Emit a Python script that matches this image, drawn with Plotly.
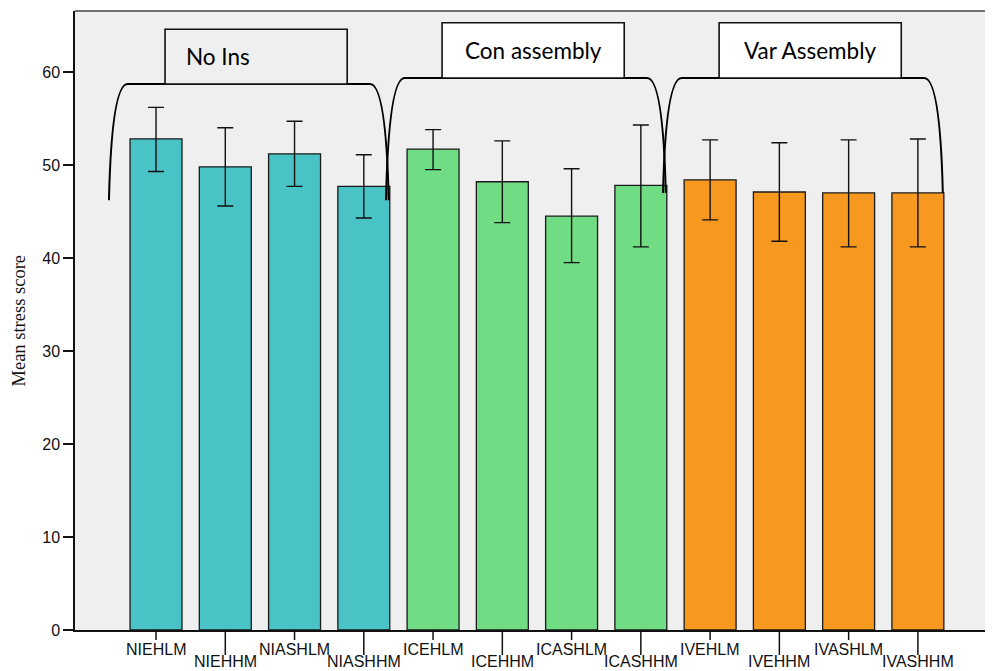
import plotly.graph_objects as go

categories = ["NIEHLM", "NIEHHM", "NIASHLM", "NIASHHM",
              "ICEHLM", "ICEHHM", "ICASHLM", "ICASHHM",
              "IVEHLM", "IVEHHM", "IVASHLM", "IVASHHM"]
means = [52.8, 49.8, 51.2, 47.7, 51.7, 48.2, 44.5, 47.8, 48.4, 47.1, 47.0, 47.0]
ci_upper = [56.2, 54.0, 54.7, 51.1, 53.8, 52.6, 49.6, 54.3, 52.7, 52.4, 52.7, 52.8]
ci_lower = [49.3, 45.6, 47.7, 44.3, 49.5, 43.8, 39.5, 41.2, 44.1, 41.8, 41.2, 41.2]
groups = ["No Ins", "Con assembly", "Var Assembly"]
group_members = [[0, 1, 2, 3], [4, 5, 6, 7], [8, 9, 10, 11]]
group_colors = ["#49C3C6", "#70DC84", "#F7991F"]
y_ticks = [0, 10, 20, 30, 40, 50, 60]

xs = list(range(len(categories)))
colors = []
for gi, mem in enumerate(group_members):
    colors += [group_colors[gi]] * len(mem)

fig = go.Figure()
fig.add_trace(go.Bar(
    x=xs, y=means, width=0.75,
    marker=dict(color=colors, line=dict(color="#1a1a1a", width=1.3)),
    error_y=dict(type="data", symmetric=False,
                 array=[u - m for u, m in zip(ci_upper, means)],
                 arrayminus=[m - l for m, l in zip(means, ci_lower)],
                 color="#111111", thickness=1.4, width=8),
    showlegend=False, hoverinfo="x+y",
))

shapes = []
annotations = []

# category tick marks and labels (staggered)
for i, c in enumerate(categories):
    long = i % 2 == 1
    shapes.append(dict(type="line", xref="x", yref="paper", x0=i, x1=i,
                       y0=0, y1=-(25 if long else 10) / 619,
                       line=dict(color="#111111", width=1.5)))
    annotations.append(dict(x=i, xref="x", y=0, yref="paper", yshift=-(31 if long else 19),
                            text=c, showarrow=False, yanchor="middle",
                            font=dict(family="Liberation Sans, Arial", size=16, color="#111111")))

# brackets and group label boxes
box_fill = ["#EFEFEF", "#FFFFFF", "#FFFFFF"]
tops = [58.7, 59.35, 59.35]
bottoms_l = [46.2, 46.2, 47.0]
bottoms_r = [46.2, 47.0, 47.0]
for gi, mem in enumerate(group_members):
    x0 = mem[0] - 0.68
    x1 = mem[-1] + 0.36
    yt = tops[gi]
    d = 0.27
    path = (f"M {x0},{bottoms_l[gi]} Q {x0 + 0.04},{yt} {x0 + d},{yt} "
            f"L {x1 - d},{yt} Q {x1 - 0.04},{yt} {x1},{bottoms_r[gi]}")
    shapes.append(dict(type="path", xref="x", yref="y", path=path,
                       line=dict(color="#000000", width=2)))
    bx0 = mem[0] + 0.13
    bx1 = mem[0] + 2.76
    by1 = yt + (5.9 if gi == 0 else 5.95)
    shapes.append(dict(type="rect", xref="x", yref="y", x0=bx0, x1=bx1, y0=yt, y1=by1,
                       fillcolor=box_fill[gi], line=dict(color="#111111", width=1.6),
                       layer="above"))
    tx = (bx0 + bx1) / 2 - (0.55 if gi == 0 else 0.0)
    annotations.append(dict(x=tx, xref="x", y=(yt + by1) / 2, yref="y", text=groups[gi],
                            showarrow=False,
                            font=dict(family="Lato, Open Sans", size=22.5, color="#000000")))

# top border
shapes.append(dict(type="line", xref="paper", yref="paper", x0=0, x1=1, y0=1, y1=1,
                   line=dict(color="#444444", width=1.5)))

annotations.append(dict(x=0, xref="paper", xshift=-57, xanchor="center", y=0.5, yref="paper",
                        text="Mean stress score", textangle=-90, showarrow=False,
                        font=dict(family="Liberation Serif, Times New Roman", size=18.5, color="#111111")))

fig.update_layout(
    width=993, height=671,
    margin=dict(l=67, r=0, t=3, b=49),
    paper_bgcolor="white", plot_bgcolor="#EFEFEF",
    shapes=shapes, annotations=annotations,
    xaxis=dict(range=[-1.17, 12.2], showticklabels=False, ticks="", showgrid=False,
               zeroline=False, showline=True, linecolor="#111111", linewidth=1.5),
    yaxis=dict(range=[0, 66.56], tickvals=y_ticks, ticks="outside", ticklen=10,
               tickwidth=1.5, tickcolor="#111111", showgrid=False, zeroline=False,
               showline=True, linecolor="#111111", linewidth=1.5,
               tickfont=dict(family="Liberation Sans, Arial", size=16, color="#111111")),
    bargap=0.25,
)

fig.write_html("out.html")
